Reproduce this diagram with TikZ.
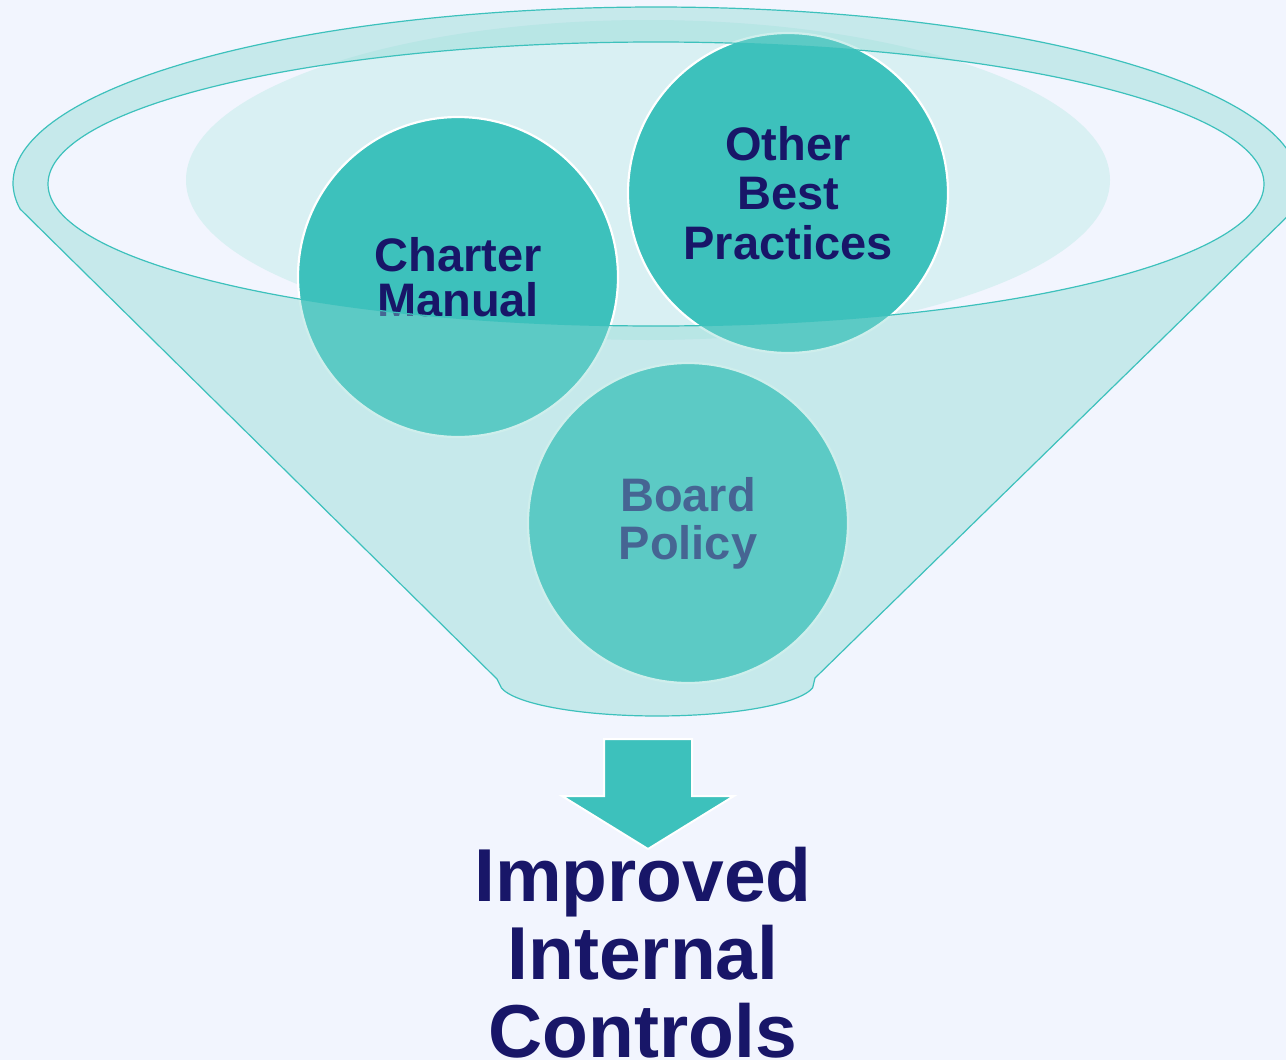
\documentclass[tikz,border=0pt]{standalone}
\usepackage{fontspec}
\setmainfont{Liberation Sans}
\definecolor{bgc}{RGB}{242,245,254}
\definecolor{teal1}{RGB}{61,193,188}
\definecolor{funnelc}{RGB}{137,216,210}
\definecolor{lightell}{RGB}{217,240,243}
\definecolor{navy}{RGB}{24,22,104}
\tikzset{
  bubble/.style={circle, minimum size=320pt, inner sep=0pt, fill=teal1, draw=white, line width=2.2pt,
    text=navy, align=center, font=\bfseries\fontsize{47}{47}\selectfont},
  funnelfill/.style={fill=funnelc, fill opacity=0.41},
  funnelline/.style={draw=teal1, line width=1.2pt},
  result/.style={text=navy, align=center, inner sep=0pt, font=\bfseries\fontsize{75}{78}\selectfont}
}
\begin{document}
\begin{tikzpicture}[x=1pt,y=-1pt]
\useasboundingbox (0,0) rectangle (1286,1060);
\clip (0,0) rectangle (1286,1060);
\fill[bgc] (0,0) rectangle (1286,1060);
% light background ellipse
\fill[lightell] (648,180) ellipse [x radius=462, y radius=160];
% bubbles
\node[bubble, font=\bfseries\fontsize{47}{45}\selectfont] (charter) at (458,277) {Charter\\Manual};
\node[bubble, font=\bfseries\fontsize{47}{49.5}\selectfont] (other) at (788,193) {Other\\Best\\Practices};
\node[bubble, font=\bfseries\fontsize{47}{48}\selectfont] (board) at (688,523) {Board\\Policy};
% funnel overlay
\path[funnelfill, even odd rule]
  plot[domain=171.5:371.1, samples=160] ({656+643*cos(\x)},{183+176*sin(\x)})
  -- (815,678) -- (812.6,688)
  -- plot[domain=10:170, samples=50] ({657+158*cos(\x)},{682+34*sin(\x)})
  -- (497,679) -- cycle
  (656,184) ellipse [x radius=608, y radius=142];
\draw[funnelline, line join=round]
  plot[domain=171.5:371.1, samples=160] ({656+643*cos(\x)},{183+176*sin(\x)})
  -- (815,678) -- (812.6,688)
  -- plot[domain=10:170, samples=50] ({657+158*cos(\x)},{682+34*sin(\x)})
  -- (497,679) -- cycle;
\draw[funnelline] (656,184) ellipse [x radius=608, y radius=142];
% arrow
\coordinate (atip) at (648,849);
\fill[teal1, draw=white, line width=2pt]
  (604,739) -- (692,739) -- (692,796) -- (734,796) -- (atip) -- (562,796) -- (604,796) -- cycle;
% result text
\node[result, anchor=north] (result) at (643,847) {Improved\\Internal\\Controls};
\end{tikzpicture}
\end{document}
